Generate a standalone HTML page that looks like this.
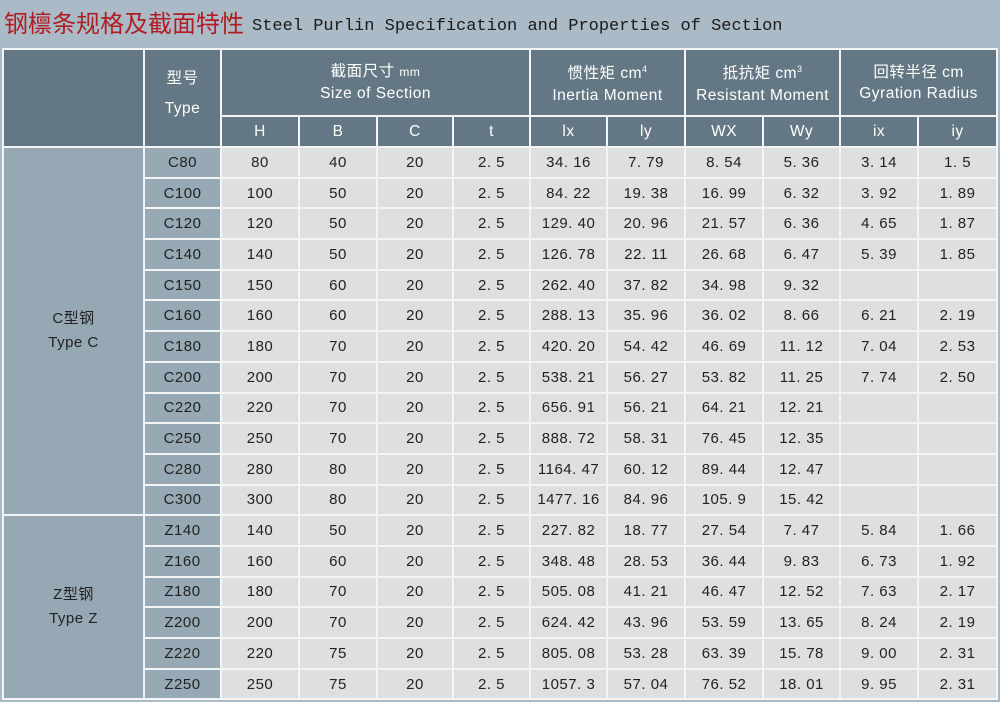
<!DOCTYPE html>
<html><head><meta charset="utf-8"><style>
html,body{margin:0;padding:0;width:1000px;height:702px;overflow:hidden;background:#aabbc7;}
.title{position:absolute;left:4px;top:4px;white-space:nowrap;}
.title .cn{font-family:"Liberation Sans","Noto Sans CJK SC",sans-serif;font-size:24px;color:#b01e24;}
.title .en{font-family:"Liberation Mono",monospace;font-size:17px;color:#1a1a1a;margin-left:8px;position:relative;top:-2px;}
table{position:absolute;left:2px;top:48px;border-collapse:collapse;table-layout:fixed;width:995px;
font-family:"Liberation Sans","Noto Sans CJK SC",sans-serif;font-size:15px;color:#222;}
td{border:2px solid #f2f4f5;text-align:center;padding:0;height:28.7px;letter-spacing:0.5px;}
.h{background:#637884;color:#fff;font-size:15.5px;}
.h1 td{height:65px;line-height:21px;}
.h2 td{height:29px;}
.g{background:#95a8b4;color:#222;line-height:24px;}
.t{background:#97a9b4;}
.d td{background:#dedfe0;}
.d td.t{background:#97a9b4;}
.d td.g{background:#95a8b4;}
</style></head><body>
<div class="title"><span class="cn">钢檩条规格及截面特性</span><span class="en">Steel Purlin Specification and Properties of Section</span></div>
<table>
<colgroup><col style="width:141px"><col style="width:77px"><col style="width:78px"><col style="width:78px"><col style="width:76px"><col style="width:77px"><col style="width:77px"><col style="width:78px"><col style="width:78px"><col style="width:77px"><col style="width:78px"><col style="width:79px"></colgroup>
<tr class="h1"><td class="h" rowspan="2"></td><td class="h" rowspan="2">型号<br><span style="line-height:40px">Type</span></td><td class="h" colspan="4">截面尺寸 <span style="font-size:12px">mm</span><br>Size of Section</td><td class="h" colspan="2">惯性矩 cm<sup style="font-size:9px">4</sup><br>Inertia Moment</td><td class="h" colspan="2">抵抗矩 cm<sup style="font-size:9px">3</sup><br>Resistant Moment</td><td class="h" colspan="2">回转半径 cm<br>Gyration Radius</td></tr>
<tr class="h2"><td class="h">H</td><td class="h">B</td><td class="h">C</td><td class="h">t</td><td class="h">lx</td><td class="h">ly</td><td class="h">WX</td><td class="h">Wy</td><td class="h">ix</td><td class="h">iy</td></tr>
<tr class="d"><td class="g" rowspan="12">C型钢<br>Type C</td><td class="t">C80</td><td>80</td><td>40</td><td>20</td><td>2. 5</td><td>34. 16</td><td>7. 79</td><td>8. 54</td><td>5. 36</td><td>3. 14</td><td>1. 5</td></tr>
<tr class="d"><td class="t">C100</td><td>100</td><td>50</td><td>20</td><td>2. 5</td><td>84. 22</td><td>19. 38</td><td>16. 99</td><td>6. 32</td><td>3. 92</td><td>1. 89</td></tr>
<tr class="d"><td class="t">C120</td><td>120</td><td>50</td><td>20</td><td>2. 5</td><td>129. 40</td><td>20. 96</td><td>21. 57</td><td>6. 36</td><td>4. 65</td><td>1. 87</td></tr>
<tr class="d"><td class="t">C140</td><td>140</td><td>50</td><td>20</td><td>2. 5</td><td>126. 78</td><td>22. 11</td><td>26. 68</td><td>6. 47</td><td>5. 39</td><td>1. 85</td></tr>
<tr class="d"><td class="t">C150</td><td>150</td><td>60</td><td>20</td><td>2. 5</td><td>262. 40</td><td>37. 82</td><td>34. 98</td><td>9. 32</td><td></td><td></td></tr>
<tr class="d"><td class="t">C160</td><td>160</td><td>60</td><td>20</td><td>2. 5</td><td>288. 13</td><td>35. 96</td><td>36. 02</td><td>8. 66</td><td>6. 21</td><td>2. 19</td></tr>
<tr class="d"><td class="t">C180</td><td>180</td><td>70</td><td>20</td><td>2. 5</td><td>420. 20</td><td>54. 42</td><td>46. 69</td><td>11. 12</td><td>7. 04</td><td>2. 53</td></tr>
<tr class="d"><td class="t">C200</td><td>200</td><td>70</td><td>20</td><td>2. 5</td><td>538. 21</td><td>56. 27</td><td>53. 82</td><td>11. 25</td><td>7. 74</td><td>2. 50</td></tr>
<tr class="d"><td class="t">C220</td><td>220</td><td>70</td><td>20</td><td>2. 5</td><td>656. 91</td><td>56. 21</td><td>64. 21</td><td>12. 21</td><td></td><td></td></tr>
<tr class="d"><td class="t">C250</td><td>250</td><td>70</td><td>20</td><td>2. 5</td><td>888. 72</td><td>58. 31</td><td>76. 45</td><td>12. 35</td><td></td><td></td></tr>
<tr class="d"><td class="t">C280</td><td>280</td><td>80</td><td>20</td><td>2. 5</td><td>1164. 47</td><td>60. 12</td><td>89. 44</td><td>12. 47</td><td></td><td></td></tr>
<tr class="d"><td class="t">C300</td><td>300</td><td>80</td><td>20</td><td>2. 5</td><td>1477. 16</td><td>84. 96</td><td>105. 9</td><td>15. 42</td><td></td><td></td></tr>
<tr class="d"><td class="g" rowspan="6">Z型钢<br>Type Z</td><td class="t">Z140</td><td>140</td><td>50</td><td>20</td><td>2. 5</td><td>227. 82</td><td>18. 77</td><td>27. 54</td><td>7. 47</td><td>5. 84</td><td>1. 66</td></tr>
<tr class="d"><td class="t">Z160</td><td>160</td><td>60</td><td>20</td><td>2. 5</td><td>348. 48</td><td>28. 53</td><td>36. 44</td><td>9. 83</td><td>6. 73</td><td>1. 92</td></tr>
<tr class="d"><td class="t">Z180</td><td>180</td><td>70</td><td>20</td><td>2. 5</td><td>505. 08</td><td>41. 21</td><td>46. 47</td><td>12. 52</td><td>7. 63</td><td>2. 17</td></tr>
<tr class="d"><td class="t">Z200</td><td>200</td><td>70</td><td>20</td><td>2. 5</td><td>624. 42</td><td>43. 96</td><td>53. 59</td><td>13. 65</td><td>8. 24</td><td>2. 19</td></tr>
<tr class="d"><td class="t">Z220</td><td>220</td><td>75</td><td>20</td><td>2. 5</td><td>805. 08</td><td>53. 28</td><td>63. 39</td><td>15. 78</td><td>9. 00</td><td>2. 31</td></tr>
<tr class="d"><td class="t">Z250</td><td>250</td><td>75</td><td>20</td><td>2. 5</td><td>1057. 3</td><td>57. 04</td><td>76. 52</td><td>18. 01</td><td>9. 95</td><td>2. 31</td></tr>
</table>
</body></html>
